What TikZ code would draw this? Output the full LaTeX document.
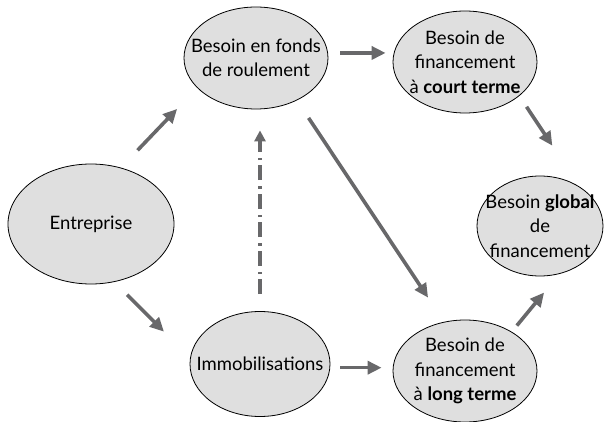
\documentclass[tikz,border=0pt]{standalone}
\usepackage{fontspec}
\setmainfont{Lato}
\usetikzlibrary{shapes.geometric,arrows.meta}
\usepackage{xcolor}
\definecolor{flgray}{RGB}{104,104,106}
\definecolor{bgray}{RGB}{223,223,223}
\tikzstyle{bulle} = [ellipse, draw=black, line width=0.8pt, fill=bgray, align=center, inner xsep=-20pt, inner ysep=-10pt, font=\fontsize{18.5}{24.5}\selectfont]
\tikzstyle{fleche} = [line width=3.6pt, color=flgray, -{Triangle[length=14pt,width=13pt]}]
\tikzstyle{pointille} = [line width=3.2pt, color=flgray, dash pattern=on 15pt off 5pt on 2.5pt off 6pt, -{Triangle[length=11pt,width=11pt]}]

\begin{document}
\begin{tikzpicture}[x=1pt, y=-1pt]
\useasboundingbox (0,0) rectangle (605,422);

% Ellipses
\node[bulle, minimum width=166pt, minimum height=120pt] (ent) at (91,224) {Entreprise};
\node[bulle, minimum width=144pt, minimum height=102pt] (bfr) at (256,58) {Besoin en fonds\\de roulement};
\node[bulle, minimum width=140pt, minimum height=105pt] (immo) at (260,364) {Immobilisations};
\node[bulle, minimum width=144pt, minimum height=102pt] (court) at (465,62) {Besoin de\\financement\\à \textbf{court terme}};
\node[bulle, minimum width=144pt, minimum height=102pt] (long) at (465,371) {Besoin de\\financement\\à \textbf{long terme}};
\node[bulle, minimum width=126pt, minimum height=100pt] (glob) at (540,226) {Besoin \textbf{global}\\de\\financement};

% Arrows
\draw[fleche, shorten <=24pt, shorten >=29pt] (ent.62) -- (bfr.207);
\draw[fleche, shorten <=18pt, shorten >=37pt] (ent.-68) -- (immo.175);
\draw[fleche, shorten <=12pt, shorten >=7pt] (bfr.4) -- (bfr.4 -| court.west);
\draw[fleche, shorten <=10pt, shorten >=11pt] (immo.-3) -- (immo.-3 -| long.west);
\draw[fleche, shorten <=21pt, shorten >=29pt] (bfr.-46) -- (long.113);
\draw[fleche, shorten <=13pt, shorten >=49pt] (court.-32) -- (glob.45);
\draw[fleche, shorten <=8pt, shorten >=24pt] (long.40) -- (glob.-68);

% Dash-dot link
\draw[pointille, shorten <=17pt, shorten >=21pt] (immo.north) -- (immo.north |- bfr.south);
\end{tikzpicture}
\end{document}
